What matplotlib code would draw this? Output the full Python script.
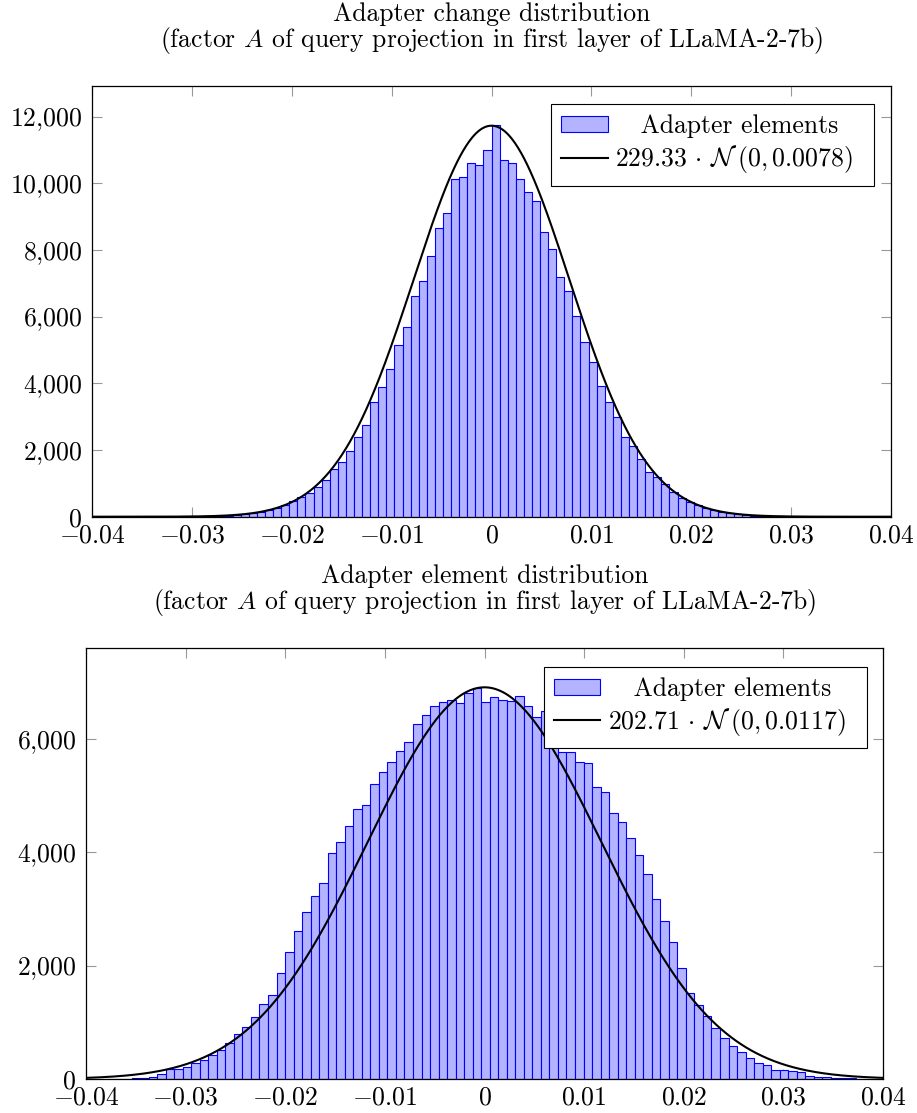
import matplotlib
matplotlib.use('Agg')
import matplotlib.pyplot as plt
import numpy as np
from matplotlib.ticker import FuncFormatter, MultipleLocator

plt.rcParams['font.family'] = 'serif'
plt.rcParams['font.serif'] = ['cmr10']
plt.rcParams['mathtext.fontset'] = 'cm'
plt.rcParams['axes.formatter.use_mathtext'] = True
plt.rcParams['axes.unicode_minus'] = False

# --- top histogram: adapter change (bins of width 0.00081, first edge -0.0324)
top_bin_start = -0.0324
top_bin_width = 0.00081
top_counts = [1, 2, 3, 5, 8, 12, 20, 30, 50, 80,
              120, 155, 200, 275, 355, 480, 590, 700, 900, 1090,
              1420, 1650, 1970, 2400, 2750, 3430, 3900, 4440, 5150, 5680,
              6620, 7060, 7830, 8650, 9100, 10140, 10200, 10620, 10540, 11000,
              11740, 10690, 10600, 10120, 9750, 9480, 8540, 8030, 7180, 6760,
              6030, 5240, 4650, 3910, 3450, 3000, 2380, 2130, 1720, 1350,
              1180, 970, 730, 570, 450, 360, 250, 200, 150, 120,
              80, 50, 30, 20, 12, 8, 5, 3, 2, 1]
top_scale, top_sigma = 229.33, 0.0078
top_title = ['Adapter change distribution',
             '(factor $A$ of query projection in first layer of LLaMA-2-7b)']
top_fit_label = r'$229.33\,\cdot\,\mathcal{N}\;(0, 0.0078)$  '

# --- bottom histogram: adapter elements (bins of width 0.000856, first edge -0.037994)
bot_bin_start = -0.037994
bot_bin_width = 0.000856
bot_counts = [2, 4, 6, 10, 20, 29, 82, 171, 182, 206,
              276, 340, 418, 506, 629, 788, 912, 1094, 1324, 1488,
              1876, 2235, 2606, 2947, 3235, 3465, 3982, 4182, 4471, 4771,
              4841, 5200, 5412, 5600, 5788, 5953, 6265, 6429, 6588, 6647,
              6688, 6641, 6806, 6894, 6659, 6735, 6682, 6665, 6765, 6582,
              6394, 6488, 6150, 5776, 5776, 5600, 5571, 5159, 5059, 4700,
              4541, 4247, 3947, 3624, 3176, 2794, 2424, 1950, 1512, 1306,
              1117, 894, 718, 582, 471, 365, 288, 247, 155, 153,
              141, 124, 59, 41, 29, 24, 18, 12, 6, 3]
bot_scale, bot_sigma = 202.71, 0.0117
bot_title = ['Adapter element distribution',
             '(factor $A$ of query projection in first layer of LLaMA-2-7b)']
bot_fit_label = r'$202.71\,\cdot\,\mathcal{N}\;(0, 0.0117)$  '

hist_label = '   Adapter elements'
x_ticks = [-0.04, -0.03, -0.02, -0.01, 0, 0.01, 0.02, 0.03, 0.04]

FS = 18.5
W, H = 917, 1113
fig = plt.figure(figsize=(W / 100, H / 100), dpi=100)


def xfmt(v, p):
    if abs(v) < 1e-9:
        return r'$0$'
    return r'$%.2f$' % v


def yfmt(v, p):
    return r'$%s$' % f'{int(round(v)):,}'.replace(',', '{,}')


def panel(rect, start, width, counts, scale, sigma, label, title, ymax, ystep, leg_anchor, title_base):
    ax = fig.add_axes(rect)
    edges = start + width * np.arange(len(counts))
    bars = ax.bar(edges, counts, width=width, align='edge', color=(0.7, 0.7, 1.0),
                  edgecolor='blue', linewidth=0.8, zorder=2)
    xs = np.linspace(-0.04, 0.04, 800)
    ys = scale / (sigma * np.sqrt(2 * np.pi)) * np.exp(-0.5 * (xs / sigma) ** 2)
    line, = ax.plot(xs, ys, color='black', linewidth=1.5, zorder=3)
    ax.set_xlim(-0.04, 0.04)
    ax.set_ylim(0, ymax)
    ax.set_xticks(x_ticks)
    ax.yaxis.set_major_locator(MultipleLocator(ystep))
    ax.xaxis.set_major_formatter(FuncFormatter(xfmt))
    ax.yaxis.set_major_formatter(FuncFormatter(yfmt))
    ax.tick_params(direction='in', length=7.5, width=0.8, color='0.6',
                   top=True, right=True, labelsize=FS)
    ax.tick_params(axis='x', pad=5)
    ax.tick_params(axis='y', pad=7)
    for s in ax.spines.values():
        s.set_linewidth(0.9)
        s.set_zorder(4)
    leg = ax.legend([bars, line], [hist_label, label], loc='upper right',
                    bbox_to_anchor=leg_anchor, borderaxespad=0,
                    fontsize=FS, frameon=True, fancybox=False, framealpha=1,
                    edgecolor='black', handlelength=1.8, handleheight=0.6,
                    handletextpad=0.3, labelspacing=0.2, borderpad=0.4)
    leg.get_frame().set_linewidth(0.8)
    leg.set_zorder(5)
    cx = rect[0] + rect[2] / 2
    fig.text(cx, 1 - title_base[0] / H, title[0], ha='center', va='baseline', fontsize=FS)
    fig.text(cx, 1 - title_base[1] / H, title[1], ha='center', va='baseline', fontsize=FS)
    return ax


panel([92 / W, 1 - 516.7 / H, 799 / W, 430.7 / H], top_bin_start, top_bin_width,
      top_counts, top_scale, top_sigma, top_fit_label, top_title, 12920, 2000,
      (0.979, 0.958), (21, 47))
panel([86 / W, 1 - 1079 / H, 797 / W, 430.7 / H], bot_bin_start, bot_bin_width,
      bot_counts, bot_scale, bot_sigma, bot_fit_label, bot_title, 7600, 2000,
      (0.980, 0.957), (583, 609))

fig.savefig('out.png', dpi=100)
